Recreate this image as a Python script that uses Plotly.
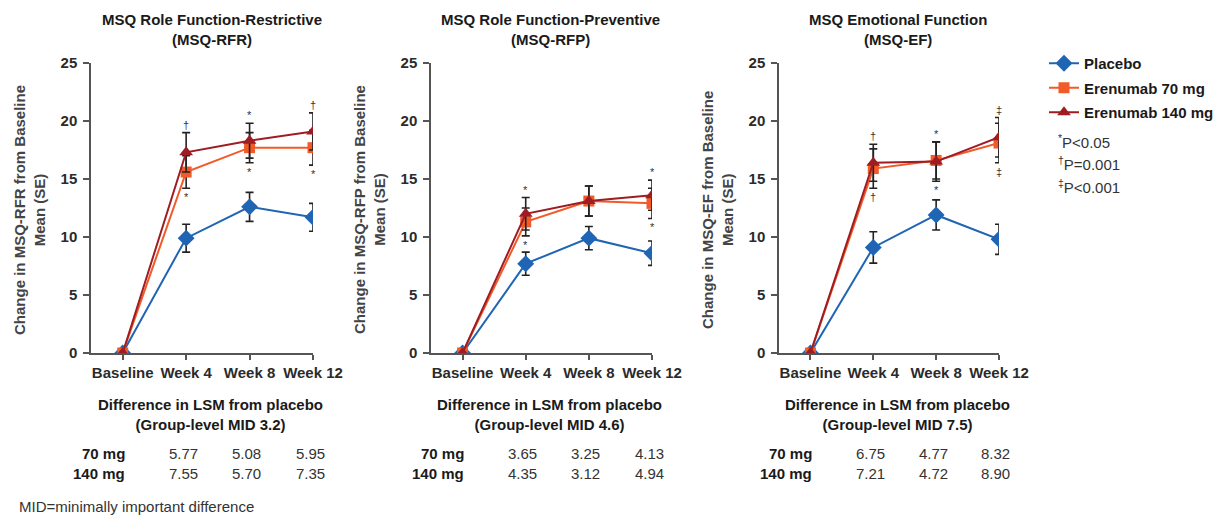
import plotly.graph_objects as go

# ---------------- data ----------------
weeks = ["Baseline", "Week 4", "Week 8", "Week 12"]
series_names = ["Placebo", "Erenumab 70 mg", "Erenumab 140 mg"]

panel_titles = ["MSQ Role Function-Restrictive<br>(MSQ-RFR)",
                "MSQ Role Function-Preventive<br>(MSQ-RFP)",
                "MSQ Emotional Function<br>(MSQ-EF)"]
y_titles = ["Change in MSQ-RFR from Baseline<br>Mean (SE)",
            "Change in MSQ-RFP from Baseline<br>Mean (SE)",
            "Change in MSQ-EF from Baseline<br>Mean (SE)"]

# RFR
rfr_placebo = [0, 9.9, 12.6, 11.7]
rfr_placebo_se = [0, 1.2, 1.25, 1.2]
rfr_70 = [0, 15.6, 17.7, 17.7]
rfr_70_se = [0, 1.4, 1.3, 1.5]
rfr_140 = [0, 17.3, 18.3, 19.1]
rfr_140_se = [0, 1.7, 1.5, 1.6]

# RFP
rfp_placebo = [0, 7.7, 9.9, 8.6]
rfp_placebo_se = [0, 1.0, 1.0, 1.05]
rfp_70 = [0, 11.3, 13.1, 12.9]
rfp_70_se = [0, 1.2, 1.3, 1.3]
rfp_140 = [0, 12.0, 13.1, 13.6]
rfp_140_se = [0, 1.4, 1.3, 1.3]

# EF
ef_placebo = [0, 9.1, 11.9, 9.8]
ef_placebo_se = [0, 1.35, 1.3, 1.3]
ef_70 = [0, 15.9, 16.6, 18.1]
ef_70_se = [0, 1.7, 1.6, 1.7]
ef_140 = [0, 16.4, 16.5, 18.6]
ef_140_se = [0, 1.6, 1.7, 1.7]

# significance symbols (above = 140 mg, below = 70 mg)
rfr_sig_140 = ["", "†", "*", "†"]
rfr_sig_70 = ["", "*", "*", "*"]
rfp_sig_140 = ["", "*", "", "*"]
rfp_sig_70 = ["", "*", "", "*"]
ef_sig_140 = ["", "†", "*", "‡"]
ef_sig_70 = ["", "†", "*", "‡"]

# difference table
table_headers = ["Difference in LSM from placebo<br>(Group-level MID 3.2)",
                 "Difference in LSM from placebo<br>(Group-level MID 4.6)",
                 "Difference in LSM from placebo<br>(Group-level MID 7.5)"]
row_labels = ["70 mg", "140 mg"]
rfr_diff_70 = ["5.77", "5.08", "5.95"]
rfr_diff_140 = ["7.55", "5.70", "7.35"]
rfp_diff_70 = ["3.65", "3.25", "4.13"]
rfp_diff_140 = ["4.35", "3.12", "4.94"]
ef_diff_70 = ["6.75", "4.77", "8.32"]
ef_diff_140 = ["7.21", "4.72", "8.90"]

footnotes = ["<sup>*</sup>P&lt;0.05", "<sup>†</sup>P=0.001", "<sup>‡</sup>P&lt;0.001"]
mid_note = "MID=minimally important difference"

# ---------------- styling ----------------
PAGE_OFF = 8                     # default body margin of the html page
W, H = 1226 - PAGE_OFF, 516 - PAGE_OFF
FONT = "Liberation Sans, Arial, sans-serif"
TXT = "#2b2b2b"
colors = ["#1f65b3", "#f15a29", "#9e1c22"]
symbols = ["diamond", "square", "triangle-up"]
msizes = [13, 11, 12]

panels = [
    dict(means=[rfr_placebo, rfr_70, rfr_140], ses=[rfr_placebo_se, rfr_70_se, rfr_140_se],
         sig140=rfr_sig_140, sig70=rfr_sig_70, d70=rfr_diff_70, d140=rfr_diff_140),
    dict(means=[rfp_placebo, rfp_70, rfp_140], ses=[rfp_placebo_se, rfp_70_se, rfp_140_se],
         sig140=rfp_sig_140, sig70=rfp_sig_70, d70=rfp_diff_70, d140=rfp_diff_140),
    dict(means=[ef_placebo, ef_70, ef_140], ses=[ef_placebo_se, ef_70_se, ef_140_se],
         sig140=ef_sig_140, sig70=ef_sig_70, d70=ef_diff_70, d140=ef_diff_140),
]

# layout positions in page pixels
x_domains_px = [(91, 313), (431, 652), (779, 999)]
y_top_px, y_bot_px = 63, 353
ytitle_x_px = [30, 370, 718]

def px(xp):
    return (xp - PAGE_OFF) / W

def py(yp):
    return 1 - (yp - PAGE_OFF) / H

fig = go.Figure()
annotations = []
xidx = list(range(len(weeks)))

for p, panel in enumerate(panels):
    ax = "" if p == 0 else str(p + 1)
    for s in range(3):
        fig.add_trace(go.Scatter(
            x=xidx, y=panel["means"][s],
            mode="lines+markers",
            name="<b>" + series_names[s] + "</b>",
            legendgroup=series_names[s],
            showlegend=(p == 0),
            line=dict(color=colors[s], width=2),
            marker=dict(symbol=symbols[s], size=msizes[s], color=colors[s], line=dict(width=0)),
            error_y=dict(type="data", array=panel["ses"][s], color="#222222", thickness=1.6, width=4),
            xaxis="x" + ax, yaxis="y" + ax,
        ))
    # significance marks
    m70, m140 = panel["means"][1], panel["means"][2]
    s70, s140 = panel["ses"][1], panel["ses"][2]
    for i in xidx:
        top = max(m70[i] + s70[i], m140[i] + s140[i])
        bot = min(m70[i] - s70[i], m140[i] - s140[i])
        if panel["sig140"][i]:
            annotations.append(dict(x=i, y=top, xref="x" + ax, yref="y" + ax, text=panel["sig140"][i],
                                    showarrow=False, yanchor="bottom", xanchor="center", yshift=0,
                                    font=dict(size=11, color="#333333", family=FONT)))
        if panel["sig70"][i]:
            annotations.append(dict(x=i, y=bot, xref="x" + ax, yref="y" + ax, text=panel["sig70"][i],
                                    showarrow=False, yanchor="top", xanchor="center", yshift=-1,
                                    font=dict(size=11, color="#333333", family=FONT)))
    # panel title
    x0, x1 = x_domains_px[p]
    annotations.append(dict(x=1.4, y=py(29), xref="x" + ax, yref="paper", text="<b>" + panel_titles[p] + "</b>",
                            showarrow=False, yanchor="middle", xanchor="center",
                            font=dict(size=15, color="#1a1a1a", family=FONT)))
    # y title
    annotations.append(dict(x=px(ytitle_x_px[p]), y=py(210), xref="paper", yref="paper",
                            text="<b>" + y_titles[p] + "</b>", textangle=-90, showarrow=False,
                            xanchor="center", yanchor="middle",
                            font=dict(size=15, color="#444444", family=FONT)))
    # table
    annotations.append(dict(x=1.38, y=py(414), xref="x" + ax, yref="paper", text="<b>" + table_headers[p] + "</b>",
                            showarrow=False, yanchor="middle", xanchor="center",
                            font=dict(size=15, color="#1a1a1a", family=FONT)))
    for r, (lab, vals) in enumerate(zip(row_labels, [panel["d70"], panel["d140"]])):
        ry = py(453 + r * 20)
        annotations.append(dict(x=0.06, y=ry, xref="x" + ax, yref="paper", text="<b>" + lab + "</b>",
                                xanchor="right", yanchor="middle", showarrow=False,
                                font=dict(size=15, color="#1a1a1a", family=FONT)))
        for j, v in enumerate(vals):
            annotations.append(dict(x=j + 1, y=ry, xref="x" + ax, yref="paper", text=v, xshift=-3,
                                    xanchor="center", yanchor="middle",
                                    showarrow=False, font=dict(size=15, color="#333333", family=FONT)))

    fig.update_layout(**{
        "xaxis" + ax: dict(domain=[px(x0), px(x1)], range=[-0.5, 3], tickmode="array", tickvals=xidx,
                           ticktext=["<b>" + w + "</b>" for w in weeks], showline=True, linecolor="#555555",
                           linewidth=1.5, ticks="outside", ticklen=5, tickwidth=1.5, tickcolor="#555555",
                           showgrid=False, zeroline=False, anchor="y" + ax, automargin=False,
                           tickfont=dict(size=15, color=TXT, family=FONT), fixedrange=True),
        "yaxis" + ax: dict(domain=[py(y_bot_px), py(y_top_px)], range=[0, 25], tickvals=[0, 5, 10, 15, 20, 25],
                           ticktext=["<b>%d</b>" % t for t in [0, 5, 10, 15, 20, 25]],
                           showline=True, linecolor="#555555", linewidth=1.5, ticks="outside", ticklen=6,
                           tickwidth=1.5, tickcolor="#555555", showgrid=False, zeroline=False,
                           anchor="x" + ax, ticklabelstandoff=3, automargin=False,
                           tickfont=dict(size=15, color=TXT, family=FONT), fixedrange=True),
    })

# legend footnotes
for k, t in enumerate(footnotes):
    annotations.append(dict(x=px(1056), y=py(141 + k * 22.5), xref="paper", yref="paper", text=t,
                            xanchor="left", yanchor="middle", showarrow=False,
                            font=dict(size=15, color="#333333", family=FONT)))
annotations.append(dict(x=px(17), y=py(506), xref="paper", yref="paper", text=mid_note, xanchor="left",
                        yanchor="middle", showarrow=False, font=dict(size=15, color="#333333", family=FONT)))

fig.update_layout(
    width=W, height=H, margin=dict(l=0, r=0, t=0, b=0, autoexpand=False),
    paper_bgcolor="white", plot_bgcolor="white",
    font=dict(family=FONT, color=TXT),
    annotations=annotations,
    legend=dict(x=px(1044), y=py(47), xanchor="left", yanchor="top", font=dict(size=15, color="#1a1a1a"),
                bgcolor="rgba(0,0,0,0)", tracegroupgap=2, itemwidth=30),
)

fig.write_html("out.html")
